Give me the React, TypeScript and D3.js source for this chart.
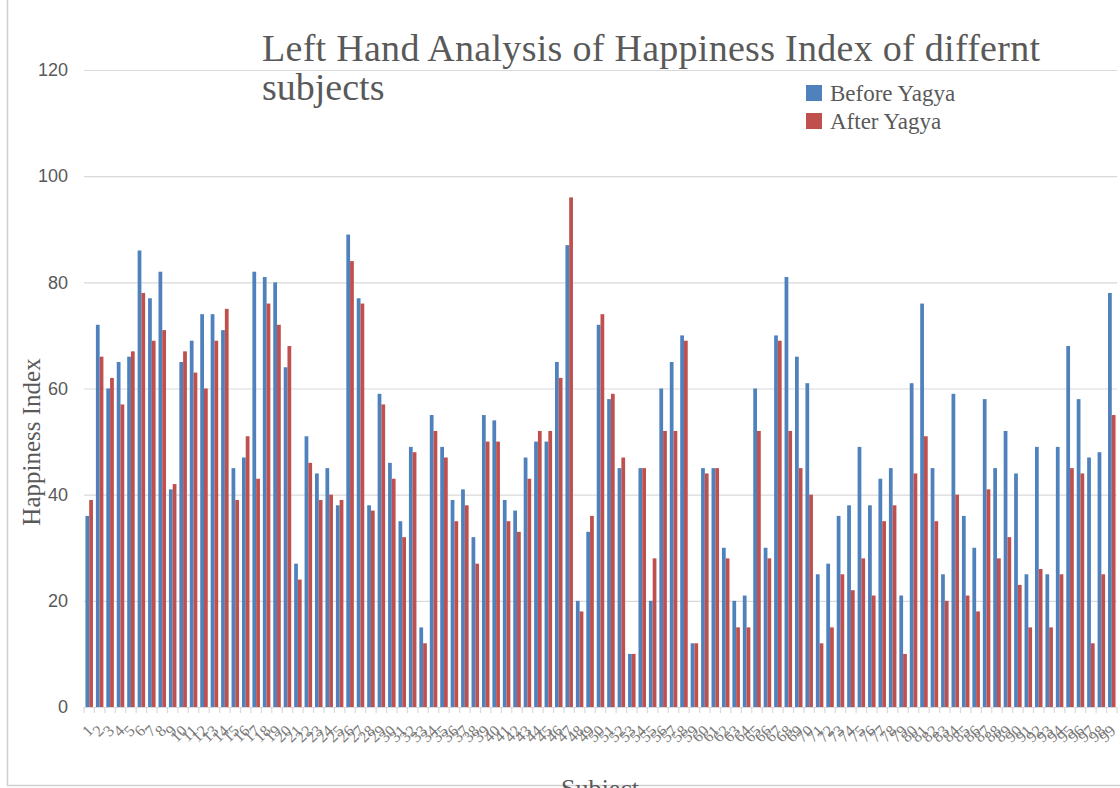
import { useEffect, useRef } from "react";
import * as d3 from "d3";

const subjects = d3.range(1, 100).map(String);

const beforeYagya = [
  36, 72, 60, 65, 66, 86, 77, 82, 41, 65,
  69, 74, 74, 71, 45, 47, 82, 81, 80, 64,
  27, 51, 44, 45, 38, 89, 77, 38, 59, 46,
  35, 49, 15, 55, 49, 39, 41, 32, 55, 54,
  39, 37, 47, 50, 50, 65, 87, 20, 33, 72,
  58, 45, 10, 45, 20, 60, 65, 70, 12, 45,
  45, 30, 20, 21, 60, 30, 70, 81, 66, 61,
  25, 27, 36, 38, 49, 38, 43, 45, 21, 61,
  76, 45, 25, 59, 36, 30, 58, 45, 52, 44,
  25, 49, 25, 49, 68, 58, 47, 48, 78,
];

const afterYagya = [
  39, 66, 62, 57, 67, 78, 69, 71, 42, 67,
  63, 60, 69, 75, 39, 51, 43, 76, 72, 68,
  24, 46, 39, 40, 39, 84, 76, 37, 57, 43,
  32, 48, 12, 52, 47, 35, 38, 27, 50, 50,
  35, 33, 43, 52, 52, 62, 96, 18, 36, 74,
  59, 47, 10, 45, 28, 52, 52, 69, 12, 44,
  45, 28, 15, 15, 52, 28, 69, 52, 45, 40,
  12, 15, 25, 22, 28, 21, 35, 38, 10, 44,
  51, 35, 20, 40, 21, 18, 41, 28, 32, 23,
  15, 26, 15, 25, 45, 44, 12, 25, 55,
];

const yTicks = [0, 20, 40, 60, 80, 100, 120];

const SERIES = [
  { key: "before", label: "Before Yagya", color: "#4f81bd", values: beforeYagya },
  { key: "after", label: "After Yagya", color: "#c0504d", values: afterYagya },
];

const SERIF = "'Liberation Serif', 'DejaVu Serif', serif";
const SANS = "'Liberation Sans', Arial, sans-serif";
const TEXT = "#595959";
const GRID = "#d9d9d9";

export default function App() {
  const svgRef = useRef<SVGSVGElement>(null);

  useEffect(() => {
    const W = 1120;
    const H = 788;
    const m = { top: 70, right: 3, bottom: 81, left: 84 };
    const w = W - m.left - m.right;
    const h = H - m.top - m.bottom;

    const root = d3.select(svgRef.current).attr("width", W).attr("height", H);
    root.selectAll("*").remove();

    root.append("rect").attr("width", W).attr("height", H).attr("fill", "#fff");
    // chart border (cropped at top/right)
    root
      .append("rect")
      .attr("x", 7.5).attr("y", -2)
      .attr("width", W + 10).attr("height", H - 0.5)
      .attr("fill", "none").attr("stroke", "#d0d0d0").attr("stroke-width", 1.5);

    const svg = root.append("g").attr("transform", `translate(${m.left},${m.top})`);

    const x = d3.scaleBand().domain(subjects).range([0, w]).paddingInner(0.28).paddingOuter(0.14);
    const xs = d3.scaleBand().domain(SERIES.map((s) => s.key)).range([0, x.bandwidth()]);
    const y = d3.scaleLinear().domain([0, 120]).range([h, 0]);

    // Grid
    svg
      .append("g")
      .call(d3.axisLeft(y).tickValues(yTicks.slice(1)).tickSize(-w).tickFormat(() => ""))
      .call((g) => {
        g.select(".domain").remove();
        g.selectAll("line").attr("stroke", GRID).attr("stroke-width", 1.2);
      });

    // Bars
    SERIES.forEach((s) => {
      svg
        .append("g")
        .selectAll("rect")
        .data(s.values)
        .join("rect")
        .attr("x", (_, i) => (x(subjects[i]) ?? 0) + (xs(s.key) ?? 0))
        .attr("y", (d) => y(d))
        .attr("width", xs.bandwidth())
        .attr("height", (d) => h - y(d))
        .attr("fill", s.color);
    });

    // X axis line + boundary ticks
    svg.append("line").attr("x1", 0).attr("x2", w).attr("y1", h + 0.5).attr("y2", h + 0.5).attr("stroke", GRID).attr("stroke-width", 1.2);
    const step = x.step();
    svg
      .append("g")
      .selectAll("line")
      .data(d3.range(subjects.length + 1))
      .join("line")
      .attr("x1", (i) => i * step).attr("x2", (i) => i * step)
      .attr("y1", h).attr("y2", h + 6)
      .attr("stroke", GRID).attr("stroke-width", 1.2);

    // X labels
    svg
      .append("g")
      .attr("transform", `translate(0,${h})`)
      .call(d3.axisBottom(x).tickSize(0).tickPadding(0))
      .call((g) => {
        g.select(".domain").remove();
        g.selectAll("text")
          .attr("y", 0).attr("dy", "0.35em")
          .attr("transform", "translate(1,21) rotate(-45)")
          .attr("text-anchor", "end")
          .attr("fill", "#7a7a7a")
          .attr("font-family", SERIF)
          .attr("font-size", 16);
      });

    // Y labels
    svg
      .append("g")
      .call(d3.axisLeft(y).tickValues(yTicks).tickSize(0).tickPadding(16))
      .call((g) => {
        g.select(".domain").remove();
        g.selectAll("text").attr("fill", TEXT).attr("font-family", SANS).attr("font-size", 18);
      });

    // Axis titles
    root
      .append("text")
      .attr("transform", "translate(40,442) rotate(-90)")
      .attr("text-anchor", "middle")
      .attr("fill", TEXT).attr("font-family", SERIF).attr("font-size", 25)
      .text("Happiness Index");

    root
      .append("text")
      .attr("x", 600).attr("y", 797)
      .attr("text-anchor", "middle")
      .attr("fill", TEXT).attr("font-family", SERIF).attr("font-size", 26)
      .text("Subject");

    // Title
    const title = root.append("text").attr("fill", TEXT).attr("font-family", SERIF).attr("font-size", 38);
    title.append("tspan").attr("x", 262).attr("y", 61).attr("textLength", 778).text("Left Hand Analysis of Happiness Index of differnt");
    title.append("tspan").attr("x", 262).attr("y", 100).text("subjects");

    // Legend
    const leg = root.append("g").attr("transform", "translate(806,85)");
    SERIES.forEach((s, i) => {
      const row = leg.append("g").attr("transform", `translate(0,${i * 28})`);
      row.append("rect").attr("width", 16).attr("height", 16).attr("fill", s.color);
      row
        .append("text")
        .attr("x", 24).attr("y", 8).attr("dy", "0.35em")
        .attr("fill", TEXT).attr("font-family", SERIF).attr("font-size", 23)
        .text(s.label);
    });
  }, []);

  return <svg ref={svgRef} style={{ position: "absolute", left: 0, top: 0, display: "block" }} />;
}
